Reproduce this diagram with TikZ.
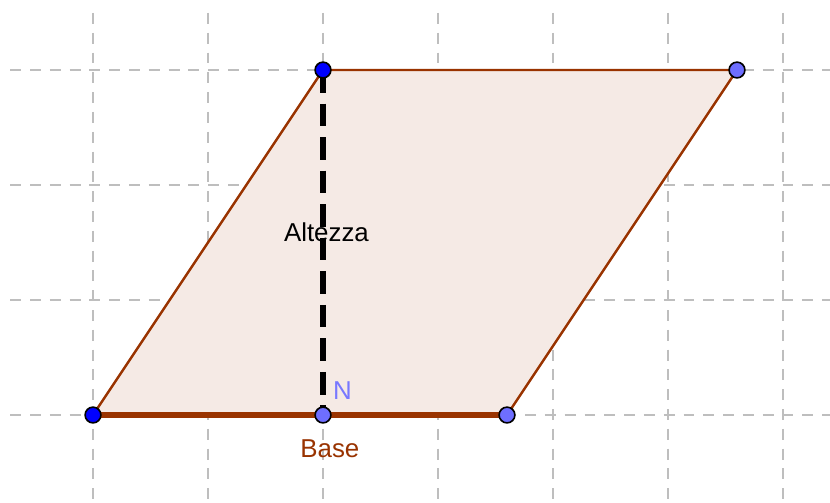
\documentclass[tikz,border=0pt]{standalone}
\usepackage{fontspec}
\setmainfont{Liberation Sans}
\definecolor{edgebrown}{RGB}{153,51,0}
\definecolor{fillpink}{RGB}{245,234,229}
\definecolor{gridgray}{RGB}{190,190,190}
\definecolor{darkpt}{RGB}{0,0,255}
\definecolor{lightpt}{RGB}{110,110,255}
\definecolor{nlabel}{RGB}{120,120,255}
\tikzset{
  gridline/.style={gridgray, line width=0.35pt, dash pattern=on 2.7pt off 2.2pt},
  edge/.style={edgebrown, line width=0.6pt},
  baseedge/.style={edgebrown, line width=1.35pt},
  altline/.style={black, line width=1.4pt, dash pattern=on 5.6pt off 2.7pt},
  darkpoint/.style={circle, fill=darkpt, draw=black, line width=0.4pt, inner sep=0pt, minimum size=3.9pt},
  lightpoint/.style={circle, fill=lightpt, draw=black, line width=0.4pt, inner sep=0pt, minimum size=3.9pt},
  lbl/.style={font=\fontsize{6.4pt}{7pt}\selectfont, inner sep=0pt}
}
\begin{document}
\begin{tikzpicture}[x=1cm,y=1cm]
\useasboundingbox (-0.8087,-0.7565) rectangle (6.4087,3.6087);
\fill[white] (-0.8087,-0.7565) rectangle (6.4087,3.6087);
% grid
\foreach \i in {0,...,6} {
  \draw[gridline] (\i,3.496) -- (\i,-0.7565);
}
\foreach \j in {0,...,3} {
  \draw[gridline] (-0.72,\j) -- (6.4087,\j);
}
% points
\coordinate (A) at (0,0);
\coordinate (B) at (3.6,0);
\coordinate (C) at (5.6,3);
\coordinate (D) at (2,3);
\coordinate (Nc) at (2,0);
\fill[fillpink] (A) -- (B) -- (C) -- (D) -- cycle;
\draw[edge] (B) -- (C) -- (D) -- (A);
\draw[baseedge] (A) -- (B);
\draw[altline] (D) -- (Nc);
\node[darkpoint] (pA) at (A) {};
\node[lightpoint] (pB) at (B) {};
\node[lightpoint] (pC) at (C) {};
\node[darkpoint] (pD) at (D) {};
\node[lightpoint] (pN) at (Nc) {};
\node[lbl, text=nlabel] (lN) at (2.17,0.215) {N};
\node[lbl, text=black] (lAlt) at (2.03,1.585) {Altezza};
\node[lbl, text=edgebrown] (lBase) at (2.06,-0.29) {Base};
\end{tikzpicture}
\end{document}
